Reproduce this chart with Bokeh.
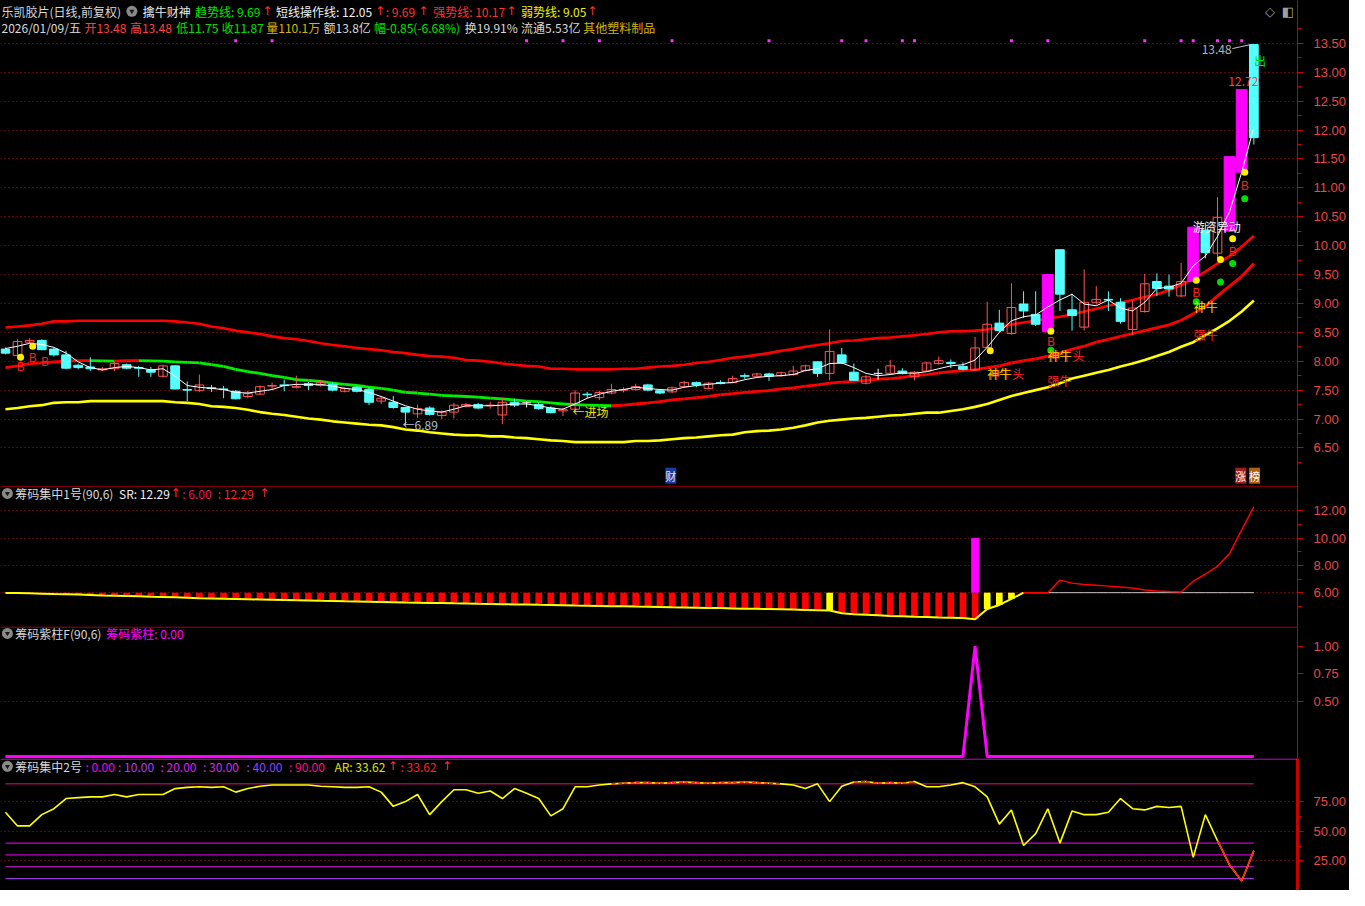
from bokeh.plotting import figure
from bokeh.layouts import column
from bokeh.models import Range1d, FixedTicker, PrintfTickFormatter, Span, Label
from bokeh.core.properties import value
from bokeh.embed import file_html
from bokeh.resources import INLINE

# ---------------- data ----------------
opens = [8.21,8.10,8.33,8.36,8.21,8.11,7.93,7.90,7.85,7.87,
         7.94,7.89,7.85,7.74,7.92,7.51,7.49,7.54,7.52,7.48,
         7.39,7.43,7.57,7.59,7.55,7.61,7.58,7.60,7.48,7.55,
         7.51,7.31,7.29,7.20,7.09,7.19,7.06,7.12,7.22,7.25,
         7.23,7.07,7.29,7.28,7.25,7.19,7.14,7.17,7.43,7.37,
         7.45,7.50,7.51,7.59,7.49,7.47,7.56,7.63,7.53,7.63,
         7.63,7.75,7.74,7.78,7.75,7.77,7.84,7.99,7.79,8.11,
         7.81,7.62,7.79,7.79,7.83,7.73,7.83,7.96,7.98,7.91,
         7.85,8.24,8.66,8.48,8.99,8.81,8.51,9.93,8.89,8.59,
         9.02,9.07,9.02,8.55,8.86,9.38,9.30,9.13,9.38,10.27,
         9.87,10.25,11.27,13.48]
highs = [8.24,8.38,8.40,8.38,8.23,8.18,7.96,8.07,7.90,7.99,
         7.96,7.92,7.90,7.94,7.93,7.65,7.77,7.59,7.57,7.50,
         7.49,7.58,7.63,7.68,7.75,7.64,7.68,7.64,7.55,7.57,
         7.55,7.40,7.40,7.21,7.25,7.22,7.15,7.28,7.28,7.28,
         7.30,7.37,7.35,7.31,7.29,7.22,7.19,7.50,7.47,7.49,
         7.61,7.55,7.61,7.61,7.51,7.56,7.66,7.65,7.64,7.67,
         7.75,7.79,7.80,7.80,7.82,7.92,7.94,8.00,8.55,8.23,
         7.96,7.76,7.87,8.02,7.88,7.83,7.99,8.08,8.03,7.98,
         8.42,9.03,8.89,9.35,9.21,9.21,9.50,9.93,9.17,9.59,
         9.30,9.21,9.09,9.05,9.51,9.52,9.50,9.70,10.32,10.40,
         10.84,11.54,12.72,13.48]
lows = [8.12,8.08,8.31,8.19,8.08,7.86,7.86,7.83,7.83,7.83,
        7.86,7.73,7.73,7.72,7.51,7.31,7.47,7.47,7.36,7.34,
        7.36,7.42,7.51,7.48,7.53,7.50,7.56,7.48,7.46,7.46,
        7.24,7.26,7.18,6.89,7.02,7.06,7.00,7.01,7.20,7.17,
        7.18,6.91,7.21,7.20,7.16,7.10,7.05,7.14,7.36,7.33,
        7.43,7.46,7.49,7.48,7.43,7.45,7.54,7.55,7.52,7.60,
        7.62,7.69,7.72,7.66,7.73,7.75,7.82,7.73,7.67,7.95,
        7.66,7.60,7.68,7.77,7.77,7.67,7.81,7.94,7.88,7.84,
        7.83,8.22,8.50,8.46,8.75,8.61,8.51,8.87,8.53,8.53,
        8.98,8.87,8.65,8.45,8.84,9.13,9.12,9.11,9.38,9.78,
        9.78,10.25,11.27,11.75]
closes = [8.14,8.34,8.36,8.20,8.11,7.88,7.89,7.87,7.87,7.96,
          7.88,7.88,7.81,7.92,7.52,7.50,7.59,7.53,7.51,7.35,
          7.44,7.56,7.58,7.58,7.56,7.58,7.63,7.50,7.53,7.48,
          7.29,7.36,7.20,7.12,7.18,7.08,7.12,7.24,7.25,7.19,
          7.24,7.29,7.24,7.28,7.18,7.11,7.16,7.45,7.42,7.46,
          7.51,7.51,7.56,7.50,7.45,7.54,7.63,7.59,7.62,7.62,
          7.70,7.74,7.78,7.74,7.80,7.83,7.92,7.79,8.17,7.97,
          7.67,7.73,7.79,7.92,7.79,7.81,7.97,8.01,7.96,7.86,
          8.23,8.64,8.53,8.93,8.87,8.64,9.50,9.16,8.79,9.02,
          9.07,9.06,8.69,8.92,9.34,9.26,9.25,9.38,10.32,9.88,
          10.49,11.54,12.70,11.87]
limit_up_idx = [86, 98, 101, 102]

strong_line = [8.585,8.60,8.62,8.65,8.69,8.69,8.70,8.70,8.70,8.70,
               8.70,8.70,8.70,8.70,8.69,8.67,8.65,8.60,8.57,8.53,
               8.50,8.47,8.43,8.40,8.38,8.35,8.31,8.28,8.26,8.23,
               8.21,8.19,8.16,8.14,8.11,8.09,8.08,8.06,8.02,8.01,
               7.99,7.96,7.94,7.92,7.91,7.87,7.87,7.86,7.86,7.86,
               7.86,7.87,7.87,7.89,7.91,7.92,7.94,7.97,7.99,8.02,
               8.06,8.08,8.11,8.14,8.18,8.21,8.25,8.28,8.31,8.35,
               8.36,8.38,8.40,8.41,8.43,8.45,8.47,8.50,8.52,8.52,
               8.53,8.55,8.585,8.64,8.67,8.70,8.74,8.77,8.81,8.86,
               8.91,8.96,9.01,9.06,9.11,9.16,9.23,9.32,9.43,9.55,
               9.69,9.82,9.98,10.17]
trend_line = [7.89,7.92,7.96,7.97,7.99,8.00,8.01,8.012,8.006,8.002,
              8.008,8.012,8.006,8.003,7.99,7.98,7.97,7.94,7.91,7.86,
              7.82,7.79,7.75,7.72,7.68,7.67,7.65,7.62,7.60,7.58,
              7.55,7.53,7.50,7.46,7.45,7.43,7.41,7.40,7.39,7.38,
              7.36,7.35,7.33,7.31,7.30,7.28,7.26,7.25,7.24,7.235,
              7.23,7.24,7.26,7.28,7.30,7.33,7.35,7.37,7.39,7.42,
              7.44,7.46,7.48,7.49,7.52,7.54,7.57,7.59,7.62,7.64,
              7.65,7.67,7.69,7.70,7.72,7.75,7.77,7.80,7.82,7.84,
              7.85,7.89,7.92,7.97,8.01,8.04,8.09,8.14,8.21,8.26,
              8.33,8.38,8.43,8.48,8.53,8.58,8.63,8.71,8.82,8.95,
              9.13,9.30,9.47,9.69]
weak_line = [7.17,7.19,7.22,7.24,7.28,7.29,7.29,7.31,7.31,7.31,
             7.31,7.31,7.31,7.31,7.29,7.28,7.26,7.22,7.21,7.19,
             7.16,7.12,7.09,7.07,7.04,7.01,6.99,6.96,6.94,6.92,
             6.90,6.89,6.86,6.82,6.80,6.77,6.75,6.73,6.72,6.72,
             6.70,6.70,6.68,6.67,6.65,6.63,6.62,6.60,6.60,6.60,
             6.60,6.60,6.62,6.62,6.63,6.65,6.67,6.68,6.70,6.72,
             6.73,6.77,6.79,6.80,6.82,6.85,6.89,6.94,6.97,6.99,
             7.01,7.02,7.04,7.06,7.07,7.09,7.11,7.11,7.14,7.17,
             7.21,7.26,7.33,7.40,7.45,7.50,7.55,7.62,7.70,7.75,
             7.80,7.85,7.91,7.96,8.02,8.09,8.16,8.25,8.33,8.45,
             8.57,8.70,8.86,9.05]
short_line = [8.22,8.26,8.31,8.29,8.24,8.14,7.99,7.89,7.85,7.89,
              7.91,7.89,7.85,7.87,7.74,7.58,7.55,7.53,7.51,7.46,
              7.45,7.48,7.51,7.58,7.60,7.60,7.60,7.57,7.53,7.51,
              7.46,7.39,7.31,7.23,7.17,7.14,7.12,7.17,7.23,7.23,
              7.23,7.24,7.26,7.26,7.23,7.19,7.17,7.26,7.36,7.43,
              7.48,7.51,7.55,7.53,7.51,7.50,7.55,7.58,7.60,7.62,
              7.63,7.68,7.72,7.74,7.75,7.77,7.84,7.87,7.96,7.97,
              7.89,7.79,7.75,7.77,7.80,7.79,7.82,7.87,7.92,7.94,
              8.02,8.24,8.50,8.70,8.77,8.80,8.94,9.06,9.16,8.99,
              8.96,9.06,8.92,8.87,9.02,9.26,9.28,9.35,9.65,9.82,
              10.16,10.59,11.27,12.05]

yellow_dot_idx = [1, 2, 81, 86, 98, 100, 101, 102]
yellow_dot_val = [8.07, 8.26, 8.18, 8.52, 9.40, 9.76, 10.12, 11.27]
green_dot_idx = [86, 98, 100, 101, 102]
green_dot_val = [8.19, 9.03, 9.37, 9.69, 10.81]
b_idx = [1, 2, 3, 86, 98, 101, 102]
b_val = [7.92, 8.09, 8.02, 8.36, 9.21, 9.91, 11.05]
top_mark_idx = [19, 22, 43, 46, 49, 55, 63, 69, 71, 74, 75, 83, 86, 94, 97, 98, 100, 101, 102]

# 筹码集中1号
sr_low = [5.98,5.97,5.95,5.93,5.90,5.88,5.86,5.83,5.80,5.78,
          5.76,5.73,5.70,5.68,5.66,5.63,5.60,5.58,5.56,5.54,
          5.52,5.50,5.48,5.46,5.44,5.42,5.40,5.39,5.37,5.36,
          5.34,5.32,5.30,5.28,5.27,5.25,5.24,5.22,5.21,5.19,
          5.18,5.16,5.14,5.13,5.11,5.10,5.08,5.06,5.05,5.03,
          5.01,5.00,4.98,4.97,4.95,4.93,4.92,4.90,4.88,4.87,
          4.85,4.83,4.82,4.80,4.78,4.76,4.74,4.72,4.70,4.50,
          4.42,4.38,4.34,4.30,4.27,4.24,4.22,4.19,4.17,4.14,
          4.05,4.80,5.10,5.55,6.00]
sr_yellow_idx = [68, 81, 82, 83]
sr_magenta_idx = [80]
sr_magenta_top = [10.0]
sr_line_idx = list(range(84, 104))
sr_line = [6.00,6.00,6.00,6.92,6.70,6.60,6.55,6.48,6.41,6.34,
           6.20,6.12,6.08,6.05,6.84,7.35,7.93,8.86,10.60,12.29]

# 筹码紫柱
zhu = [0.0] * 80 + [1.0] + [0.0] * 23

# 筹码集中2号
ar = [66, 54.5, 54.5, 64, 69, 77.6, 78.4, 79, 79, 81,
      79, 81, 81, 81, 86, 87, 87.5, 87, 87.5, 83,
      86, 88, 89, 89, 89, 89, 88, 87.5, 87, 87,
      87.5, 83, 71, 75, 81, 64, 75, 85, 85, 82,
      84, 77.6, 86, 82, 77.6, 63, 69, 87.5, 87.5, 89,
      90, 90.5, 91, 91, 90.5, 91, 91.5, 91, 90.5, 91,
      91, 91.5, 91, 90.5, 90, 89, 86, 90, 75, 88,
      91.6, 92, 90.5, 91, 90.5, 92, 87.5, 87.5, 89, 91,
      87.5, 79, 56, 68, 38, 48, 69, 40, 67, 64,
      64, 66, 77.6, 69, 68, 71, 70, 71, 28, 64,
      42, 21.5, 8, 33.62]
ar_red_tail_start = 100
ar_levels = [0, 10, 20, 30, 40, 90]
ar_level_colors = ["#ff00ff", "#b040ff", "#e020f0", "#ff00ff", "#ff00ff", "#e0107a"]

price_ticks = [6.5, 7.0, 7.5, 8.0, 8.5, 9.0, 9.5, 10.0, 10.5, 11.0, 11.5, 12.0, 12.5, 13.0, 13.5]

# ---------------- layout helpers (reference pixel geometry) ----------------
N = len(closes)
idx = list(range(N))
FW = 1297
RW = 52


def ix(px):
    return (px - 5.0) / 12.27


def pr(py):
    return 13.5 - (py - 43.7) / 58.86


def v2(py):
    return 6.0 - (py - 602.7) / 13.85


def v3(py):
    return (769.0 - py) / 112.0


def v4(py):
    return (906.0 - py) / 1.212


XR = (ix(0), ix(1313))
CJK = "Noto Sans CJK SC"
AXC = "#c80000"


def mk(h, yr, ticks, minor, grid_ticks, axw=1):
    p = figure(frame_width=FW, frame_height=h, x_range=Range1d(*XR), y_range=Range1d(*yr),
               output_backend="svg", toolbar_location=None, x_axis_location=None,
               y_axis_location="right", min_border_left=0, min_border_top=0,
               min_border_bottom=0, min_border_right=RW,
               background_fill_color="black", border_fill_color="black",
               outline_line_color=None)
    p.xgrid.visible = False
    ax = p.yaxis[0]
    ax.ticker = FixedTicker(ticks=ticks, minor_ticks=minor)
    ax.formatter = PrintfTickFormatter(format="%.2f")
    ax.axis_line_color = AXC
    ax.axis_line_width = axw
    ax.major_tick_line_color = AXC
    ax.minor_tick_line_color = AXC
    ax.major_tick_out = 6
    ax.major_tick_in = 0
    ax.minor_tick_out = 4
    ax.minor_tick_in = 0
    ax.major_label_text_color = "#e84848"
    ax.major_label_text_font = "Liberation Sans"
    ax.major_label_text_font_size = "13px"
    ax.major_label_standoff = 10
    p.ygrid.ticker = FixedTicker(ticks=grid_ticks)
    p.ygrid.grid_line_color = "#b01010"
    p.ygrid.grid_line_dash = "1 3"
    p.ygrid.grid_line_width = 1
    return p


def lab(p, x, y, t, c, size="12px", font=CJK, bg=None, align="left"):
    p.add_layout(Label(x=x, y=y, text=t, text_color=c, text_font_size=size, text_font=font,
                       text_align=align, text_baseline="middle", background_fill_color=bg,
                       padding=0))


def icon(p, x, y):
    p.scatter([x], [y], size=11, marker="circle", fill_color="#8a8a8a", line_color=None)
    p.scatter([x], [y], size=5, marker="inverted_triangle", fill_color="#1a1a1a", line_color=None)


# ---------------- main price panel ----------------
H1, H2, H3, H4 = 485, 141, 132, 132
p1 = mk(H1, (pr(494), pr(0)), price_ticks, [t + 0.25 for t in price_ticks[:-1]] + [6.25, 13.75], price_ticks)

# bands
p1.line(idx, strong_line, line_color="#ff0000", line_width=2.6)
p1.line(idx, weak_line, line_color="#ffff00", line_width=2.6)
tx0, ty0, tx1, ty1, tc = [], [], [], [], []
for i in range(N - 1):
    tx0.append(i); ty0.append(trend_line[i]); tx1.append(i + 1); ty1.append(trend_line[i + 1])
    tc.append("#00ee00" if trend_line[i + 1] < trend_line[i] else "#ff0000")
p1.segment(tx0, ty0, tx1, ty1, line_color=tc, line_width=2.8)

# candles
RED, CYAN = "#ff5454", "#54ffff"
up = [i for i in idx if closes[i] > opens[i] and i not in limit_up_idx]
dn = [i for i in idx if closes[i] < opens[i] and i not in limit_up_idx]
dj = [i for i in idx if closes[i] == opens[i] and i not in limit_up_idx]
for grp, col in ((up, RED), (dn, CYAN), (dj, "#ffffff")):
    p1.segment([i for i in grp], [lows[i] for i in grp], [i for i in grp], [highs[i] for i in grp],
               line_color=col, line_width=1)
p1.vbar(x=up, bottom=[opens[i] for i in up], top=[closes[i] for i in up], width=0.72,
        fill_alpha=0, line_color=RED, line_width=1)
p1.vbar(x=dn, bottom=[closes[i] for i in dn], top=[opens[i] for i in dn], width=0.72,
        fill_color=CYAN, line_color=CYAN, line_width=1)
p1.segment([i - 0.36 for i in dj], [opens[i] for i in dj], [i + 0.36 for i in dj], [closes[i] for i in dj],
           line_color="#ffffff", line_width=1)
p1.vbar(x=limit_up_idx, bottom=[opens[i] for i in limit_up_idx], top=[closes[i] for i in limit_up_idx],
        width=0.9, fill_color="#ff00ff", line_color="#ff00ff")

# short-term line
p1.line(idx, short_line, line_color="#ffffff", line_width=1)

# signals
p1.scatter([i + 0.25 for i in yellow_dot_idx], yellow_dot_val, size=7, fill_color="#ffee00", line_color=None)
p1.scatter([i + 0.25 for i in green_dot_idx], green_dot_val, size=7, fill_color="#00dd00", line_color=None)
p1.text([i + 0.25 for i in b_idx], b_val, text=["B"] * len(b_idx), text_color="#ff2020",
        text_font=value(CJK), text_font_size="12px", text_align="center", text_baseline="middle")
p1.scatter(top_mark_idx, [pr(41)] * len(top_mark_idx), marker="square", size=3,
           fill_color="#ff30ff", line_color=None)

# annotations in the price panel
lab(p1, ix(1000), pr(380), "神牛头", "#ff2020")
lab(p1, ix(999), pr(380), "神牛", "#e8d000")
lab(p1, ix(1061), pr(362), "神牛头", "#ff2020")
lab(p1, ix(1060), pr(362), "神牛", "#e8d000")
lab(p1, ix(1060), pr(387), "强牛", "#ff2020")
lab(p1, ix(1208), pr(312), "神牛", "#f0e000")
lab(p1, ix(1208), pr(340), "强牛", "#ff2020")
lab(p1, ix(1207), pr(230), "游资异动", "#f0f0f0")
lab(p1, ix(407), pr(432), "←6.89", "#a8c0d8")
lab(p1, ix(579), pr(419), "←进场", "#f0e000")
lab(p1, ix(1216), pr(50), "13.48", "#a8b8c8")
p1.segment([ix(1247)], [pr(49)], [ix(1265)], [pr(45)], line_color="#c0c0c0", line_width=1)
lab(p1, ix(1243), pr(82), "12.72", "#ff4040")
lab(p1, ix(1269), pr(61), "出", "#00e000")
lab(p1, ix(673), pr(484), "财", "#e0e8ff", size="11px", bg="#1c3c9c")
lab(p1, ix(1250), pr(484), "涨", "#ffffff", size="11px", bg="#a02020")
lab(p1, ix(1264), pr(484), "榜", "#ffffff", size="11px", bg="#b06010")

# header line 1
Y1, Y2 = pr(11), pr(27)
lab(p1, ix(1), Y1, "乐凯胶片(日线,前复权)", "#d8d8d8")
icon(p1, ix(133), Y1)
lab(p1, ix(144), Y1, "擒牛财神", "#e8e8e8")
lab(p1, ix(197), Y1, "趋势线: 9.69", "#00e600")
lab(p1, ix(265), Y1, "↑", "#ff3030", font="DejaVu Sans")
lab(p1, ix(279), Y1, "短线操作线: 12.05", "#f0f0f0")
lab(p1, ix(379), Y1, "↑", "#ff3030", font="DejaVu Sans")
lab(p1, ix(390), Y1, ": 9.69", "#ff3030")
lab(p1, ix(423), Y1, "↑", "#ff3030", font="DejaVu Sans")
lab(p1, ix(438), Y1, "强势线: 10.17", "#ff3030")
lab(p1, ix(512), Y1, "↑", "#ff3030", font="DejaVu Sans")
lab(p1, ix(527), Y1, "弱势线: 9.05", "#f0f000")
lab(p1, ix(594), Y1, "↑", "#ff3030", font="DejaVu Sans")
lab(p1, ix(1280), Y1, "◇", "#a0a0a0", font="DejaVu Sans", size="13px")
lab(p1, ix(1297), Y1, "◧", "#a0a0a0", font="DejaVu Sans", size="13px")
# header line 2
for px, t, c in ((1, "2026/01/09/五", "#d8d8d8"), (85, "开13.48", "#ff4040"), (131, "高13.48", "#ff4040"),
                 (178, "低11.75", "#00e000"), (224, "收11.87", "#00e000"), (269, "量110.1万", "#d8b400"),
                 (327, "额13.8亿", "#d8d8d8"), (378, "幅-0.85(-6.68%)", "#00e000"),
                 (470, "换19.91%", "#d8d8d8"), (527, "流通5.53亿", "#d8d8d8"),
                 (590, "其他塑料制品", "#d8b400")):
    lab(p1, ix(px), Y2, t, c)

# ---------------- 筹码集中1号 ----------------
p2 = mk(H2, (v2(637), v2(494)), [6, 8, 10, 12], [5, 7, 9, 11], [6, 8, 10, 12])
p2.add_layout(Span(location=v2(494.6), dimension="width", line_color="#d00000", line_width=1))
nlow = len(sr_low)
bar_i = [i for i in range(nlow) if sr_low[i] < 6.0]
bar_c = ["#ffff00" if i in sr_yellow_idx else "#ff0000" for i in bar_i]
p2.vbar(x=bar_i, bottom=[sr_low[i] for i in bar_i], top=[6.0] * len(bar_i), width=0.55,
        fill_color=bar_c, line_color=None)
p2.vbar(x=sr_magenta_idx, bottom=[6.0] * len(sr_magenta_idx), top=sr_magenta_top, width=0.65,
        fill_color="#ff00ff", line_color=None)
p2.line(list(range(nlow)), sr_low, line_color="#ffff00", line_width=2)
p2.line(sr_line_idx, [6.0] * len(sr_line_idx), line_color="#c8c8c8", line_width=1)
p2.line(sr_line_idx, sr_line, line_color="#ff0000", line_width=1.5)
Yh2 = v2(502)
icon(p2, ix(7), Yh2)
lab(p2, ix(15), Yh2, "筹码集中1号(90,6)", "#d8d8d8")
lab(p2, ix(120), Yh2, "SR: 12.29", "#f0f0f0")
lab(p2, ix(172), Yh2, "↑", "#ff3030", font="DejaVu Sans")
lab(p2, ix(184), Yh2, ": 6.00", "#f0105a")
lab(p2, ix(220), Yh2, ": 12.29", "#ff2020")
lab(p2, ix(262), Yh2, "↑", "#ff3030", font="DejaVu Sans")

# ---------------- 筹码紫柱F ----------------
p3 = mk(H3, (v3(771), v3(637)), [0.5, 0.75, 1.0], [], [0.5])
p3.add_layout(Span(location=v3(637.6), dimension="width", line_color="#d00000", line_width=1))
p3.line(idx, zhu, line_color="#ff00ff", line_width=3)
Yh3 = v3(644)
icon(p3, ix(7), Yh3)
lab(p3, ix(15), Yh3, "筹码紫柱F(90,6)", "#d8d8d8")
lab(p3, ix(107), Yh3, "筹码紫柱: 0.00", "#ff00ff")

# ---------------- 筹码集中2号 ----------------
p4 = mk(H4, (v4(906), v4(771)), [25, 50, 75], [37.5, 62.5], [25, 50, 75], axw=3)
p4.add_layout(Span(location=v4(771.6), dimension="width", line_color="#ff00ff", line_width=1))
for lv, lc in zip(ar_levels, ar_level_colors):
    p4.line([0, N - 1], [lv, lv], line_color=lc, line_width=1)
p4.line(idx, ar, line_color="#ffff00", line_width=1.6)
rx0, ry0, rx1, ry1 = [], [], [], []
for i in range(N - 1):
    if ar[i] >= 90 and ar[i + 1] >= 90:
        rx0.append(i); ry0.append(ar[i]); rx1.append(i + 1); ry1.append(ar[i + 1])
p4.segment(rx0, ry0, rx1, ry1, line_color="#ff2020", line_width=1.6, line_dash="4 3")
tail = list(range(ar_red_tail_start, N))
p4.line(tail, [ar[i] for i in tail], line_color="#ff2020", line_width=1.6)
Yh4 = v4(779)
icon(p4, ix(7), Yh4)
lab(p4, ix(15), Yh4, "筹码集中2号", "#d8d8d8")
for px, t, c in ((86, ": 0.00", "#ff00ff"), (119, ": 10.00", "#b040ff"), (162, ": 20.00", "#e020f0"),
                 (205, ": 30.00", "#d030e0"), (249, ": 40.00", "#9a40ff"), (292, ": 90.00", "#ff1080"),
                 (338, "AR: 33.62", "#e0e000"), (392, "↑", "#ff3030"), (405, ": 33.62", "#ff2020"),
                 (447, "↑", "#ff3030")):
    lab(p4, ix(px), Yh4, t, c, font=("DejaVu Sans" if t == "↑" else CJK))

layout = column(p1, p2, p3, p4, spacing=0)
layout.styles = {"background-color": "black"}
open("out.html", "w").write(file_html(layout, INLINE))
